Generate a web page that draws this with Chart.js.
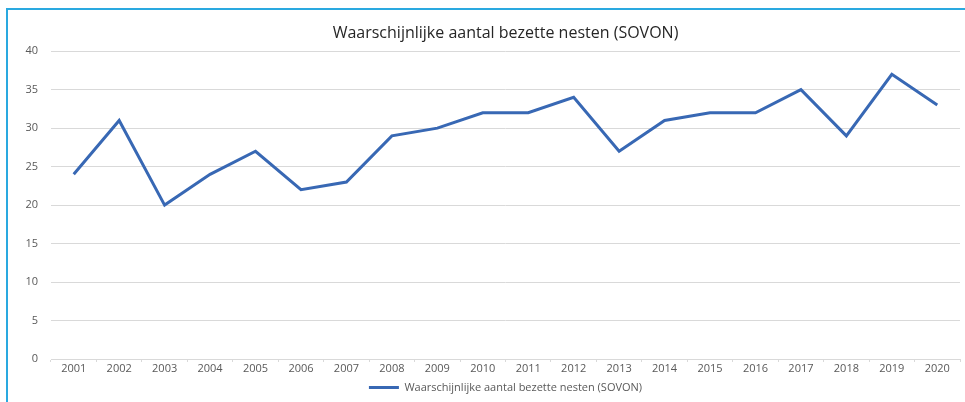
<!DOCTYPE html>
<html>
<head>
<meta charset="utf-8">
<script src="https://cdn.jsdelivr.net/npm/chart.js@4/dist/chart.umd.min.js"></script>
<style>
  body { margin: 0; background: #fff; }
  #wrap { position: relative; width: 965px; height: 402px; overflow: hidden; }
  #frame { position: absolute; left: 6px; top: 8px; width: 2000px; height: 2000px;
           border-top: 2px solid #2aa9e0; border-left: 2px solid #2aa9e0; }
  canvas { position: absolute; left: 0; top: 0; }
</style>
</head>
<body>
<div id="wrap">
  <div id="frame"></div>
  <canvas id="nestChart" width="965" height="402"></canvas>
</div>
<script>
let years = ['2001','2002','2003','2004','2005','2006','2007','2008','2009','2010',
             '2011','2012','2013','2014','2015','2016','2017','2018','2019','2020'];
let nests = [24, 31, 20, 24, 27, 22, 23, 29, 30, 32, 32, 34, 27, 31, 32, 32, 35, 29, 37, 33];
let yTicks = [0, 5, 10, 15, 20, 25, 30, 35, 40];
let seriesName = 'Waarschijnlijke aantal bezette nesten (SOVON)';

let ctx = document.getElementById('nestChart').getContext('2d');

let nestChart = new Chart(ctx, {
    type: 'line',
    data: {
        labels: years,
        datasets: [{
            label: seriesName,
            data: nests,
            borderColor: '#3868b4',
            backgroundColor: '#3868b4',
            borderWidth: 3,
            pointRadius: 0,
            tension: 0,
            fill: false
        }]
    },
    options: {
        responsive: false,
        animation: false,
        layout: { padding: { left: 0, right: 5, top: 0, bottom: 0 } },
        plugins: {
            title: {
                display: true,
                text: seriesName,
                fullSize: false,
                color: '#262626',
                font: { family: 'Open Sans', size: 16, weight: 'normal' },
                padding: { top: 24, bottom: 8 }
            },
            legend: {
                position: 'bottom',
                fullSize: false,
                maxHeight: 20,
                labels: {
                    usePointStyle: true,
                    pointStyle: 'line',
                    pointStyleWidth: 30,
                    color: '#595959',
                    font: { family: 'Open Sans', size: 11 },
                    padding: 0
                }
            },
            tooltip: { enabled: false }
        },
        scales: {
            x: {
                offset: true,
                grid: { offset: true, drawOnChartArea: false, drawTicks: true, tickLength: 3, color: '#d9d9d9' },
                border: { color: '#d9d9d9' },
                ticks: { color: '#595959', font: { family: 'Open Sans', size: 11 }, padding: 0, maxRotation: 0 },
                afterFit: (scale) => { scale.height = 23; }
            },
            y: {
                min: 0,
                max: 40,
                afterBuildTicks: (scale) => { scale.ticks = yTicks.map(v => ({ value: v })); },
                grid: { color: '#d9d9d9', drawTicks: false },
                border: { display: false },
                ticks: { color: '#595959', font: { family: 'Open Sans', size: 11 }, padding: 13 },
                afterFit: (scale) => { scale.width = 51; }
            }
        }
    }
});
</script>
</body>
</html>
